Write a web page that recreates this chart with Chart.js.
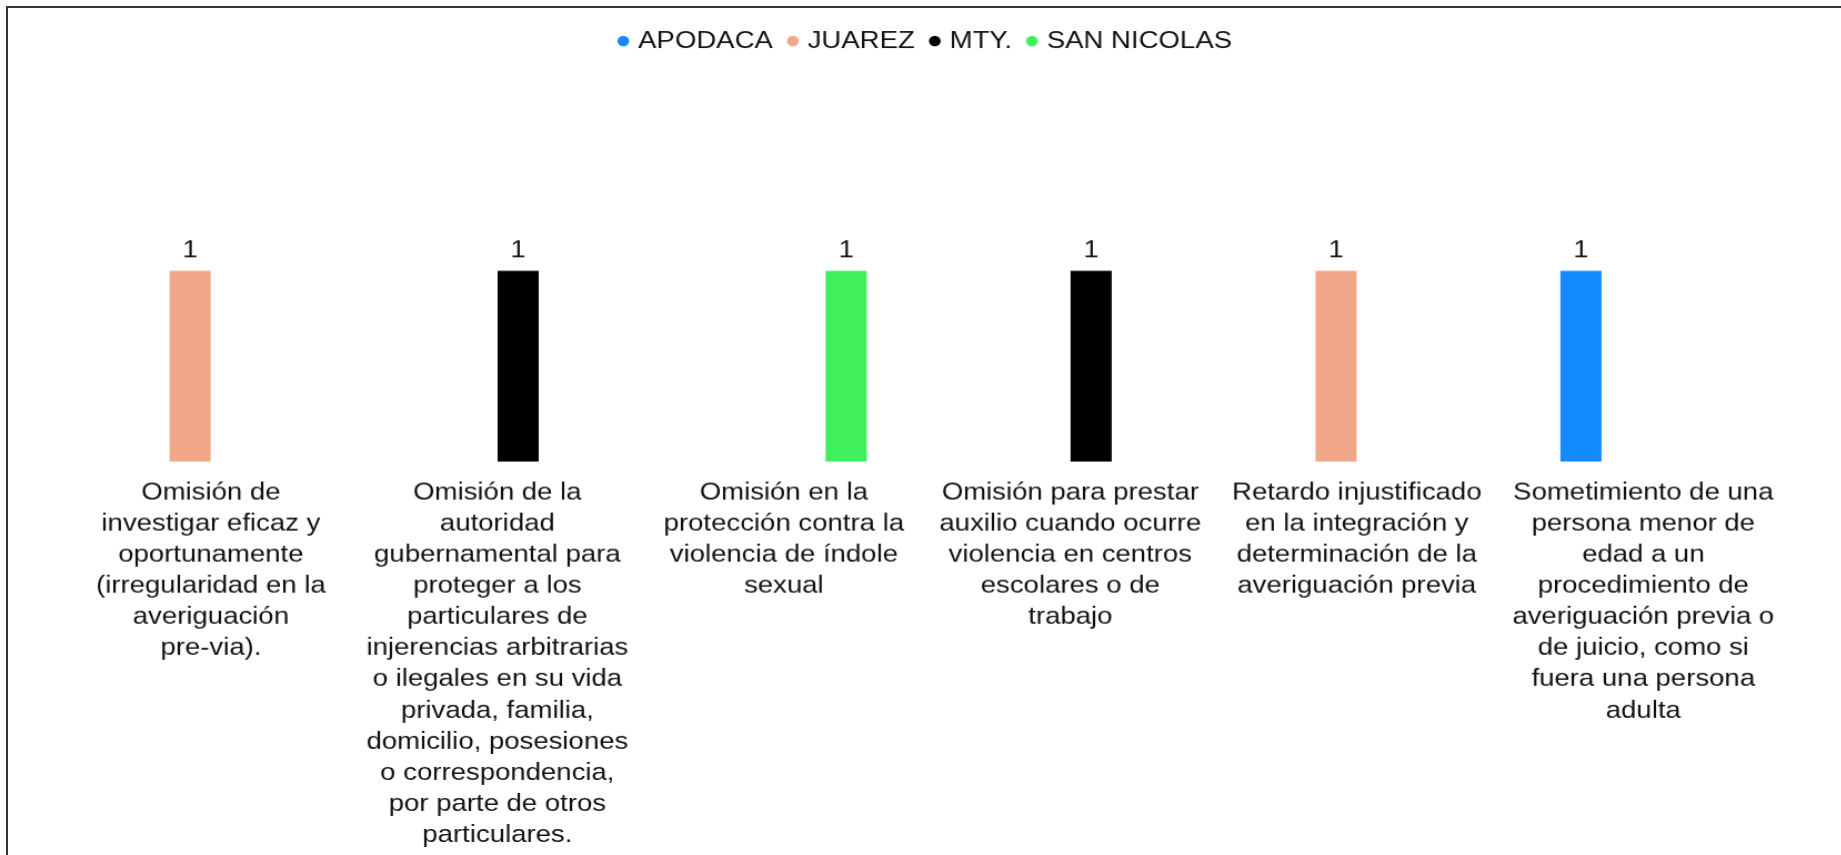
<!DOCTYPE html>
<html>
<head>
<meta charset="utf-8">
<script src="https://cdn.jsdelivr.net/npm/chart.js@4.4.1/dist/chart.umd.min.js"></script>
<style>
  html, body { margin: 0; padding: 0; background: #fff; overflow: hidden; }
  body { width: 1841px; height: 855px; position: relative; }
  #frame { position: absolute; left: 6px; top: 6px; width: 2000px; height: 1000px;
           border-left: 2px solid #333; border-top: 2px solid #333; }
  #wrap { position: absolute; left: 0; top: 0; width: 1658.6px; height: 871.5px;
          transform: scaleX(1.11); transform-origin: 0 0; }
</style>
</head>
<body>
<div id="frame"></div>
<div id="wrap"><canvas id="c"></canvas></div>
<script>
// ---- data ----
const categories = [
  ["Omisión de", "investigar eficaz y", "oportunamente", "(irregularidad en la", "averiguación", "pre-via)."],
  ["Omisión de la", "autoridad", "gubernamental para", "proteger a los", "particulares de", "injerencias arbitrarias", "o ilegales en su vida", "privada, familia,", "domicilio, posesiones", "o correspondencia,", "por parte de otros", "particulares."],
  ["Omisión en la", "protección contra la", "violencia de índole", "sexual"],
  ["Omisión para prestar", "auxilio cuando ocurre", "violencia en centros", "escolares o de", "trabajo"],
  ["Retardo injustificado", "en la integración y", "determinación de la", "averiguación previa"],
  ["Sometimiento de una", "persona menor de", "edad a un", "procedimiento de", "averiguación previa o", "de juicio, como si", "fuera una persona", "adulta"]
];
const seriesNames = ["APODACA", "JUAREZ", "MTY.", "SAN NICOLAS"];
const apodaca    = [null, null, null, null, null, 1];
const juarez     = [1, null, null, null, 1, null];
const mty        = [null, 1, null, 1, null, null];
const sanNicolas = [null, null, 1, null, null, null];
const seriesColors = ["#148cff", "#f0a888", "#000000", "#3fef5c"];

const FONT = "'Liberation Sans', Arial, Helvetica, sans-serif";
const FSIZE = 24.8;

const valueLabels = {
  id: 'valueLabels',
  afterDatasetsDraw(chart) {
    const ctx = chart.ctx;
    ctx.save();
    ctx.font = FSIZE + "px " + FONT;
    ctx.fillStyle = "#111";
    ctx.textAlign = "center";
    ctx.textBaseline = "middle";
    chart.data.datasets.forEach((ds, i) => {
      const meta = chart.getDatasetMeta(i);
      meta.data.forEach((bar, j) => {
        const v = ds.data[j];
        if (v === null || v === undefined) return;
        ctx.fillText(String(v), bar.x, bar.y - 20);
      });
    });
    ctx.restore();
  }
};

const legendSpace = {
  id: 'legendSpace',
  beforeInit(chart) {
    const orig = chart.legend.fit;
    chart.legend.fit = function () { orig.call(this); this.height += 16.6; };
  }
};

const datasetsData = [apodaca, juarez, mty, sanNicolas];

new Chart(document.getElementById('c'), {
  type: 'bar',
  data: {
    labels: categories,
    datasets: seriesNames.map((n, i) => ({
      label: n,
      data: datasetsData[i],
      backgroundColor: seriesColors[i],
      borderWidth: 0,
      categoryPercentage: 0.58,
      barPercentage: 0.99
    }))
  },
  options: {
    responsive: true,
    maintainAspectRatio: false,
    animation: false,
    devicePixelRatio: 1,
    layout: { padding: { top: 11.6, left: 60.9, right: 50.1, bottom: 6.4 } },
    plugins: {
      legend: {
        position: 'top',
        labels: {
          usePointStyle: true,
          pointStyle: 'circle',
          boxWidth: 2,
          boxHeight: 7.5,
          padding: 17,
          color: '#111',
          font: { family: FONT, size: FSIZE }
        }
      },
      tooltip: { enabled: false }
    },
    scales: {
      x: {
        grid: { display: false, drawTicks: false },
        border: { display: false },
        ticks: {
          autoSkip: false, maxRotation: 0, minRotation: 0,
          padding: 15.4,
          color: '#111',
          font: { family: FONT, size: FSIZE, lineHeight: 1.254 }
        }
      },
      y: {
        display: false,
        min: 0,
        max: 2
      }
    }
  },
  plugins: [valueLabels, legendSpace]
});
</script>
</body>
</html>
